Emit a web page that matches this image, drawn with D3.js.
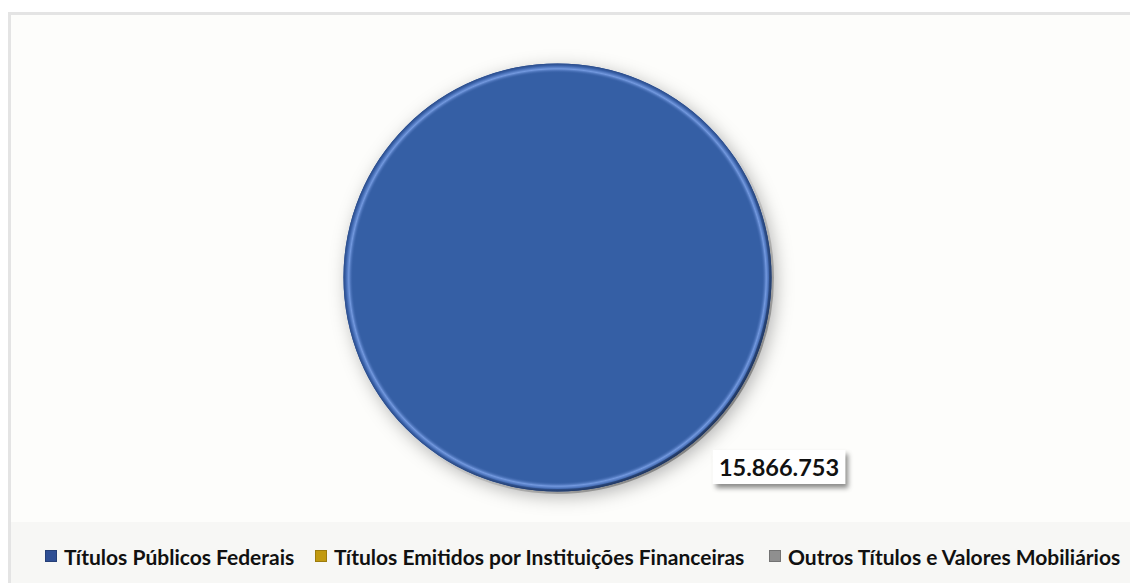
<!DOCTYPE html>
<html><head><meta charset="utf-8">
<script src="https://cdn.jsdelivr.net/npm/d3@7"></script>
<style>html,body{margin:0;padding:0;background:#fff;overflow:hidden}</style>
</head><body>
<script>
const categories = ["Títulos Públicos Federais", "Títulos Emitidos por Instituições Financeiras", "Outros Títulos e Valores Mobiliários"];
const values = [15866753, 0, 0];
const colors = ["#365ea5", "#c9a012", "#a0a0a0"];
const markerColors = ["#2f4f94", "#c29a10", "#8f8f8f"];
const labels = ["15.866.753"];

const W = 1130, H = 583;
const svg = d3.select("body").append("svg").attr("width", W).attr("height", H);
const defs = svg.append("defs");

const f = defs.append("filter").attr("id","sh").attr("x","-20%").attr("y","-20%").attr("width","140%").attr("height","140%");
f.append("feDropShadow").attr("dx",4).attr("dy",5).attr("stdDeviation",9).attr("flood-color","#000").attr("flood-opacity",0.3);
const f2 = defs.append("filter").attr("id","sh2").attr("x","-20%").attr("y","-30%").attr("width","140%").attr("height","180%");
f2.append("feDropShadow").attr("dx",3).attr("dy",4).attr("stdDeviation",2.5).attr("flood-color","#000").attr("flood-opacity",0.45);

const rg = defs.append("radialGradient").attr("id","bevel").attr("cx","50%").attr("cy","50%").attr("r","50%");
[[0,"#365ea5",0],[0.955,"#365ea5",0],[0.975,"#7399df",1],[0.99,"#3a62aa",1],[1,"#2a4a86",1]].forEach(s=>{
  rg.append("stop").attr("offset",s[0]).attr("stop-color",s[1]).attr("stop-opacity",s[2]);
});
const lg = defs.append("linearGradient").attr("id","light").attr("x1","0").attr("y1","0").attr("x2","1").attr("y2","1");
lg.append("stop").attr("offset",0).attr("stop-color","#fff").attr("stop-opacity",0.0);
lg.append("stop").attr("offset",0.55).attr("stop-color","#000").attr("stop-opacity",0.0);
lg.append("stop").attr("offset",1).attr("stop-color","#000").attr("stop-opacity",0.5);

svg.append("rect").attr("x",0).attr("y",0).attr("width",W).attr("height",H).attr("fill","#ffffff");
svg.append("rect").attr("x",9.5).attr("y",13.5).attr("width",W+20).attr("height",H+20).attr("fill","#fdfdfb").attr("stroke","#e4e4e4").attr("stroke-width",3);
svg.append("rect").attr("x",11).attr("y",522).attr("width",W).attr("height",H-522).attr("fill","#f7f7f5");

const cx = 557.5, cy = 277.5, R = 214;
const pie = d3.pie().sort(null).value(d=>d)(values);
const arc = d3.arc().innerRadius(0).outerRadius(R);
const g = svg.append("g").attr("transform",`translate(${cx},${cy})`);

g.selectAll("path.slice").data(pie).join("path").attr("class","slice")
  .attr("d",arc).attr("fill",(d,i)=>colors[i]).attr("filter","url(#sh)");
g.append("circle").attr("r",R).attr("fill","url(#bevel)");
g.append("circle").attr("r",R).attr("fill","none").attr("stroke","url(#light)").attr("stroke-width",5);

const lx = 779, ly = 467;
const lbl = svg.append("g");
const t = lbl.append("text").attr("x",lx).attr("y",ly).attr("text-anchor","middle").attr("dominant-baseline","central")
  .attr("font-family","Lato, 'Open Sans', sans-serif").attr("font-weight","bold").attr("font-size",23.5).attr("fill","#111")
  .text(labels[0]);
const bb = t.node().getBBox();
lbl.insert("rect","text").attr("x",bb.x-6).attr("y",ly-17).attr("width",bb.width+12).attr("height",34)
  .attr("fill","#ffffff").attr("filter","url(#sh2)");

const legX = [45, 315, 769];
const leg = svg.append("g");
categories.forEach((c,i)=>{
  const gg = leg.append("g").attr("transform",`translate(${legX[i]},556)`);
  gg.append("rect").attr("x",0.5).attr("y",-5.5).attr("width",11).attr("height",11).attr("fill",markerColors[i])
    .attr("stroke",d3.color(markerColors[i]).darker(0.6)).attr("stroke-width",1);
  gg.append("text").attr("x",19).attr("y",0).attr("dominant-baseline","central")
    .attr("font-family","Lato, 'Open Sans', sans-serif").attr("font-weight","bold").attr("font-size",21).attr("fill","#111").text(c);
});
</script>
</body></html>
